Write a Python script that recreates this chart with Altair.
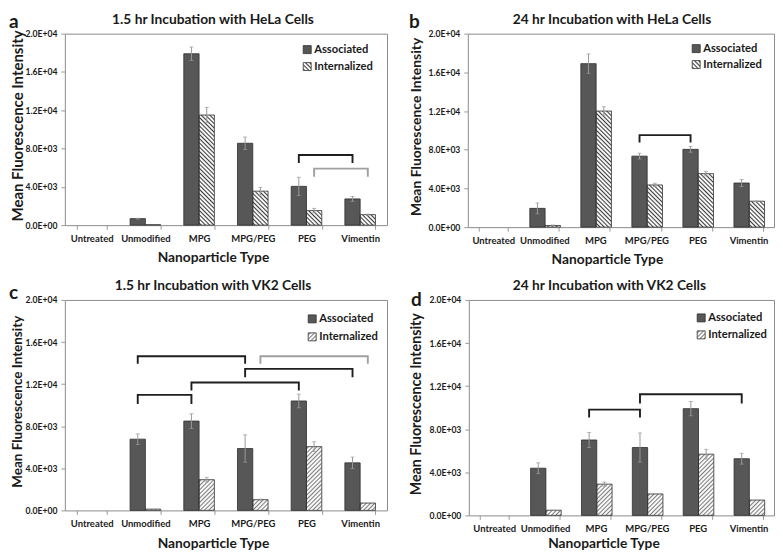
import base64
import altair as alt
import pandas as pd

FONT = "Lato"
TXT = "#1a1a1a"

categories = ["Untreated", "Unmodified", "MPG", "MPG/PEG", "PEG", "Vimentin"]
series = ["Associated", "Internalized"]
y_ticks = [0, 4000, 8000, 12000, 16000, 20000]
y_tick_labels = ["0.0E+00", "4.0E+03", "8.0E+03", "1.2E+04", "1.6E+04", "2.0E+04"]

titles = ["1.5 hr Incubation with HeLa Cells", "24 hr Incubation with HeLa Cells",
          "1.5 hr Incubation with VK2 Cells", "24 hr Incubation with VK2 Cells"]
letters = ["a", "b", "c", "d"]

# Panel a
a_assoc = [0, 680, 17900, 8550, 4050, 2740]
a_assoc_err = [0, 40, 700, 650, 950, 250]
a_int = [0, 50, 11500, 3550, 1520, 1100]
a_int_err = [0, 0, 800, 400, 230, 50]
# Panel b
b_assoc = [0, 1940, 16900, 7340, 8040, 4560]
b_assoc_err = [0, 560, 1000, 300, 300, 360]
b_int = [0, 170, 12000, 4360, 5530, 2680]
b_int_err = [0, 50, 450, 170, 230, 30]
# Panel c
c_assoc = [0, 6770, 8490, 5880, 10400, 4520]
c_assoc_err = [0, 500, 700, 1300, 650, 550]
c_int = [0, 120, 2920, 1020, 6060, 700]
c_int_err = [0, 0, 220, 50, 460, 0]
# Panel d
d_assoc = [0, 4380, 7000, 6300, 9910, 5260]
d_assoc_err = [0, 500, 700, 1350, 660, 500]
d_int = [0, 480, 2900, 1990, 5680, 1420]
d_int_err = [0, 0, 200, 0, 450, 0]

BLACK = "#1e1e1e"
GRAY = "#a0a0a0"
# significance brackets: (category 1, series 1, category 2, series 2, top, tip end, colour)
a_brackets = [("PEG", "Associated", "Vimentin", "Associated", 7330, 6600, BLACK),
              ("PEG", "Internalized", "Vimentin", "Internalized", 5900, 5150, GRAY)]
b_brackets = [("MPG/PEG", "Associated", "PEG", "Associated", 9510, 8840, BLACK)]
c_brackets = [("Unmodified", "Associated", "MPG/PEG", "Associated", 14650, 14030, BLACK),
              ("MPG/PEG", "Internalized", "Vimentin", "Internalized", 14650, 14030, GRAY),
              ("MPG/PEG", "Associated", "Vimentin", "Associated", 13450, 12740, BLACK),
              ("MPG", "Associated", "PEG", "Associated", 12150, 11480, BLACK),
              ("Unmodified", "Associated", "MPG", "Associated", 10980, 10200, BLACK)]
d_brackets = [("MPG", "Associated", "MPG/PEG", "Associated", 9820, 9180, BLACK),
              ("MPG/PEG", "Associated", "Vimentin", "Associated", 11240, 10480, BLACK)]

DARK = "#575757"


def hatch_uri(color, angle):
    svg = ("<svg xmlns='http://www.w3.org/2000/svg' width='100%' height='100%'>"
           "<defs><pattern id='h' width='3' height='3' patternUnits='userSpaceOnUse' "
           f"patternTransform='rotate({angle})'>"
           "<rect width='3' height='3' fill='white'/>"
           f"<line x1='1.5' y1='-1' x2='1.5' y2='4' stroke='{color}' stroke-width='1.1'/>"
           "</pattern></defs><rect width='100%' height='100%' fill='url(#h)'/></svg>")
    return "data:image/svg+xml;base64," + base64.b64encode(svg.encode()).decode()


label_expr = " : ".join(f"datum.value == {v} ? '{l}'" for v, l in zip(y_ticks, y_tick_labels)) + " : ''"


def panel(title, letter, assoc, assoc_err, intl, intl_err, brackets, w, h, hatch,
          title_dx, ytitle_x, ytitle_size, letter_x, letter_y, legend_right, legend_rows,
          xtitle_pad, xtitle_dx):
    rows = []
    for i, c in enumerate(categories):
        rows.append(dict(cat=c, ser="Associated", val=assoc[i], err=assoc_err[i]))
        rows.append(dict(cat=c, ser="Internalized", val=intl[i], err=intl_err[i]))
    df = pd.DataFrame(rows)
    df["lo"] = df["val"] - df["err"]
    df["hi"] = df["val"] + df["err"]

    brows = []
    for k, (c1, s1, c2, s2, top, tip, col) in enumerate(brackets):
        for seq, (c, s, yv) in enumerate([(c1, s1, tip), (c1, s1, top), (c2, s2, top), (c2, s2, tip)]):
            brows.append(dict(bid=k, seq=seq, cat=c, ser=s, y=yv, col=col))
    bdf = pd.DataFrame(brows)

    xscale = alt.Scale(domain=categories, paddingInner=0.43, paddingOuter=0.215)
    xaxis = alt.Axis(
        title="Nanoparticle Type", titleFont=FONT, titleFontSize=13.8, titleFontWeight="bold",
        titleColor=TXT, titlePadding=xtitle_pad, titleX=w / 2 + xtitle_dx,
        labelAngle=0, labelFont=FONT, labelFontSize=9.5,
        labelFontWeight="bold", labelColor=TXT, labelPadding=4, ticks=True, tickBand="extent",
        tickSize=4, tickColor="#9a9a9a", domain=False, grid=False)
    X = alt.X("cat:N", sort=categories, scale=xscale, axis=xaxis)
    xo = alt.XOffset("ser:N", sort=series, scale=alt.Scale(domain=series, paddingInner=0, paddingOuter=0))
    yscale = alt.Scale(domain=[0, 20000], nice=False, zero=True)
    yaxis = alt.Axis(
        values=y_ticks, labelExpr=label_expr, title="Mean Fluorescence Intensity",
        titleFont=FONT, titleFontSize=ytitle_size, titleFontWeight="bold", titleColor=TXT,
        titleX=ytitle_x, titleY=h / 2 - 4, titleBaseline="middle", titleAlign="center",
        labelFont=FONT, labelFontSize=8.6, labelFontWeight="bold", labelColor=TXT,
        labelPadding=4, ticks=True, tickSize=4, tickColor="#9a9a9a", domain=False, grid=False)

    def Y(field):
        return alt.Y(field, type="quantitative", scale=yscale, axis=yaxis)

    base = alt.Chart(df)
    bars = base.transform_filter(alt.datum.val > 0).mark_bar(strokeWidth=0).encode(
        x=X, xOffset=xo, y=Y("val"),
        color=alt.Color("ser:N", sort=series,
                        scale=alt.Scale(domain=series, range=[DARK, "#ffffff"]), legend=None))
    hatched = base.transform_filter(alt.datum.ser == "Internalized").transform_filter(
        alt.datum.val > 0).mark_image(aspect=False).encode(
        x=X, xOffset=xo, y=Y("val"), y2=alt.datum(0), url=alt.value(hatch))
    outline = base.transform_filter(alt.datum.val > 0).mark_bar(
        fillOpacity=0, stroke="#2e2e2e", strokeWidth=0.8).encode(x=X, xOffset=xo, y=Y("val"))
    ebase = base.transform_filter(alt.datum.err > 0)
    err = ebase.mark_rule(color="#9a9a9a", strokeWidth=1).encode(
        x=X, xOffset=xo, y=Y("lo"), y2="hi:Q")
    cap_hi = ebase.mark_tick(color="#9a9a9a", thickness=1, size=4).encode(x=X, xOffset=xo, y=Y("hi"))
    cap_lo = ebase.mark_tick(color="#9a9a9a", thickness=1, size=4).encode(x=X, xOffset=xo, y=Y("lo"))
    br = alt.Chart(bdf).mark_line(strokeWidth=1.9, strokeJoin="miter", strokeCap="square").encode(
        x=X, xOffset=xo, y=Y("y"),
        detail="bid:N", order="seq:Q", stroke=alt.Stroke("col:N", scale=None))
    ttl = alt.Chart(pd.DataFrame({"t": [title]})).mark_text(
        font=FONT, fontSize=13.8, fontWeight="bold", color=TXT, align="center", baseline="middle").encode(
        text="t:N", x=alt.value(w / 2 + title_dx), y=alt.value(-14))
    let = alt.Chart(pd.DataFrame({"t": [letter]})).mark_text(
        font=FONT, fontSize=19, fontWeight="bold", color=TXT, align="left", baseline="alphabetic").encode(
        text="t:N", x=alt.value(letter_x), y=alt.value(letter_y))

    # legend drawn inside the plot, top right
    lx = w - legend_right
    leg = []
    for name, ry in zip(series, legend_rows):
        one = alt.Chart(pd.DataFrame({"t": [name]}))
        if name == "Associated":
            sw = one.mark_rect(fill=DARK, stroke="#2e2e2e", strokeWidth=0.8).encode(
                x=alt.value(lx), x2=alt.value(lx + 8), y=alt.value(ry - 4), y2=alt.value(ry + 4))
        else:
            sw = one.mark_image(aspect=False).encode(
                x=alt.value(lx), x2=alt.value(lx + 8), y=alt.value(ry - 4), y2=alt.value(ry + 4),
                url=alt.value(hatch))
            leg.append(sw)
            sw = one.mark_rect(fillOpacity=0, stroke="#2e2e2e", strokeWidth=0.8).encode(
                x=alt.value(lx), x2=alt.value(lx + 8), y=alt.value(ry - 4), y2=alt.value(ry + 4))
        leg.append(sw)
        leg.append(one.mark_text(font=FONT, fontSize=11.2, fontWeight="bold", color=TXT,
                                 align="left", baseline="middle").encode(
            text="t:N", x=alt.value(lx + 11), y=alt.value(ry + 0.5)))
    return alt.layer(bars, hatched, outline, err, cap_hi, cap_lo, br, ttl, let, *leg).properties(
        width=w, height=h)


HATCH_AB = hatch_uri("#3a3a3a", -45)
HATCH_CD = hatch_uri("#7d7d7d", 45)

pa = panel(titles[0], letters[0], a_assoc, a_assoc_err, a_int, a_int_err, a_brackets, 323, 192, HATCH_AB,
           -13, -47, 15, -56, -5.5, 84, (16, 33), 8, -13)
pb = panel(titles[1], letters[1], b_assoc, b_assoc_err, b_int, b_int_err, b_brackets, 307, 194, HATCH_AB,
           -9, -51, 14, -59, -5.5, 82, (15, 31), 8, -14)
pc = panel(titles[2], letters[2], c_assoc, c_assoc_err, c_int, c_int_err, c_brackets, 323, 211, HATCH_CD,
           -13, -47, 13.5, -56, -1, 79, (19, 37), 9, -13)
pd_ = panel(titles[3], letters[3], d_assoc, d_assoc_err, d_int, d_int_err, d_brackets, 306, 216, HATCH_CD,
            -12, -52, 14.3, -58, 6, 77, (18, 35), 4, -18)

res = dict(x="independent", y="independent", color="independent")
row1 = alt.hconcat(pa, pb, spacing=20).resolve_scale(**res)
row2 = alt.hconcat(pc, pd_, spacing=21).resolve_scale(**res)
chart = alt.vconcat(row1, row2, spacing=11).resolve_scale(**res)
chart = chart.properties(padding={"left": 0, "top": 3, "right": 0, "bottom": 0}, background="white")
chart = chart.configure_view(stroke="#8c8c8c", strokeWidth=1)

chart.save("out.html", embed_options={"renderer": "svg", "actions": False})
